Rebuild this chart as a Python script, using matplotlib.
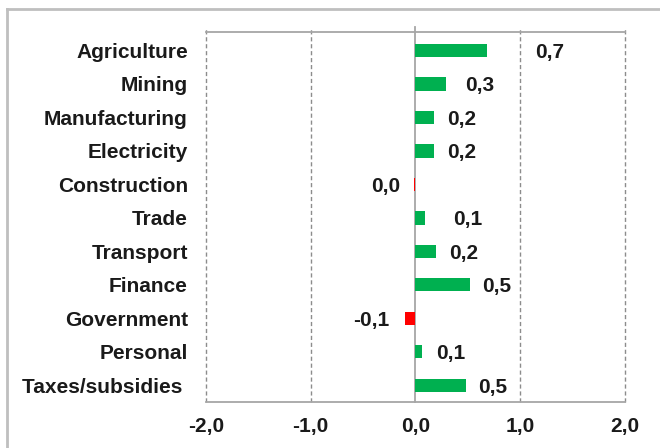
import matplotlib
matplotlib.use("Agg")
import matplotlib.pyplot as plt
from matplotlib.lines import Line2D

# contributions by sector (percentage points)
sectors = ['Agriculture', 'Mining', 'Manufacturing', 'Electricity', 'Construction',
           'Trade', 'Transport', 'Finance', 'Government', 'Personal', 'Taxes/subsidies ']
values = [0.68, 0.29, 0.18, 0.18, -0.01, 0.09, 0.20, 0.52, -0.10, 0.06, 0.48]

# extra nudge of the value labels (points), as hand-placed in the original
label_gap = [35, 14, 9, 9, 10, 20, 9, 9, 11, 10, 9]

xticks = [-2, -1, 0, 1, 2]

plt.rcParams['font.family'] = ['Liberation Sans', 'DejaVu Sans']
plt.rcParams['font.weight'] = 'bold'

fig = plt.figure(figsize=(6.6, 4.48), dpi=100)
ax = fig.add_axes([0.312, 0.1027, 0.635, 0.826])

colors = ['#00B050' if v >= 0 else '#FF0000' for v in values]
ypos = list(range(len(sectors)))
ax.barh(ypos, values, height=0.4, color=colors, zorder=3)

for y, v, g in zip(ypos, values, label_gap):
    txt = f"{round(v, 1) + 0.0:.1f}".replace('.', ',')
    if v >= 0:
        ax.annotate(txt, (v, y + 0.06), xytext=(g, 0), textcoords='offset points',
                    ha='left', va='center', fontsize=15, fontweight='bold', color='#1a1a1a')
    else:
        ax.annotate(txt, (v, y + 0.06), xytext=(-g, 0), textcoords='offset points',
                    ha='right', va='center', fontsize=15, fontweight='bold', color='#1a1a1a')

ax.set_xlim(-2, 2)
ax.set_ylim(10.5, -0.55)
ax.set_xticks(xticks)
ax.set_xticklabels([f"{t:.1f}".replace('.', ',') for t in xticks])
ax.set_yticks(ypos)
ax.set_yticklabels(sectors)
ax.tick_params(axis='both', length=0, labelsize=15, colors='#1a1a1a')
ax.tick_params(axis='x', pad=11)
ax.tick_params(axis='y', pad=13)

# dashed grid lines, slightly poking above the plot frame
for t in xticks:
    if t == 0:
        ax.plot([t, t], [10.5, -0.7], color='#a6a6a6', lw=1.3, zorder=2, clip_on=False)
    else:
        ax.plot([t, t], [10.5, -0.7], color='#8c8c8c', lw=1.0, ls=(0, (3, 2)), zorder=2,
                clip_on=False)

for side in ['left', 'right']:
    ax.spines[side].set_visible(False)
for side in ['top', 'bottom']:
    ax.spines[side].set_color('#a6a6a6')
    ax.spines[side].set_linewidth(1.3)

# outer chart frame (only top/left visible in the crop)
fig.add_artist(Line2D([7 / 660, 7 / 660], [0, 1 - 9 / 448], color='#bfbfbf', lw=2))
fig.add_artist(Line2D([7 / 660, 1], [1 - 9 / 448, 1 - 9 / 448], color='#bfbfbf', lw=2))

fig.savefig('out.png', dpi=100)
